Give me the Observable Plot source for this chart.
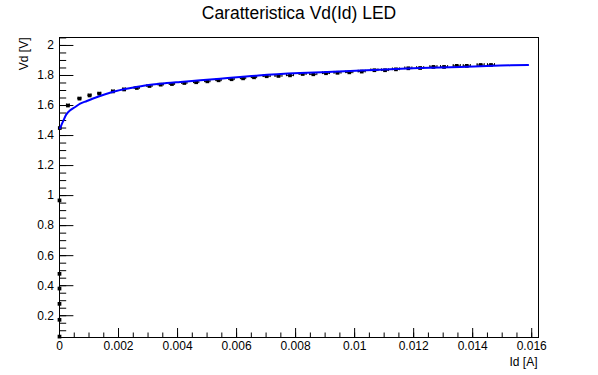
<!DOCTYPE html>
<html>
<head>
<meta charset="utf-8">
<script src="https://cdn.jsdelivr.net/npm/d3@7"></script>
<script src="https://cdn.jsdelivr.net/npm/@observablehq/plot@0.6"></script>
<style>
  html, body { margin: 0; padding: 0; background: #fff; }
</style>
</head>
<body>
<div id="chart"></div>
<script>
// ---- data ----
const titleText = "Caratteristica Vd(Id) LED";
const xTitle = "Id [A]";
const yTitle = "Vd [V]";

const idValues = [
  0, 0, 0, 0, 0, 0, 0.00001,
  0.000285, 0.000677, 0.00102, 0.00135, 0.00181, 0.00219,
  0.00262, 0.00305, 0.00343, 0.00381, 0.00423, 0.00463, 0.00501, 0.00539, 0.00583, 0.00622, 0.00659,
  0.00702, 0.00742, 0.00781, 0.00824, 0.0086, 0.00903, 0.00942, 0.00982, 0.01024, 0.01067,
  0.01103, 0.0114, 0.01182, 0.01222, 0.01267, 0.01303, 0.01346, 0.0138, 0.01427, 0.01462
];
const vdValues = [
  0.061, 0.173, 0.279, 0.381, 0.479, 0.968, 1.45,
  1.600, 1.646, 1.667, 1.679, 1.694, 1.707,
  1.717, 1.730, 1.739, 1.743, 1.750, 1.755, 1.761, 1.768, 1.775, 1.781, 1.788,
  1.795, 1.797, 1.801, 1.810, 1.808, 1.815, 1.818, 1.821, 1.826, 1.835,
  1.835, 1.841, 1.848, 1.850, 1.857, 1.857, 1.864, 1.864, 1.870, 1.870
];
const idErrors = [
  0, 0, 0, 0, 0, 0, 0,
  0.00005, 0.00005, 0.00005, 0.00005, 0.00005, 0.00005,
  0.00009, 0.00009, 0.00009, 0.00009, 0.00009, 0.00009, 0.00009, 0.00009, 0.00009, 0.00009, 0.00009,
  0.00012, 0.00012, 0.00012, 0.00012, 0.00012, 0.00012, 0.00012, 0.00012, 0.00012, 0.00012,
  0.00012, 0.00012, 0.00012, 0.00012, 0.00012, 0.00012, 0.00012, 0.00012, 0.00012, 0.00012
];

// fit curve
const fitId = [0.00002, 0.000135, 0.000227, 0.000362, 0.000532, 0.000701, 0.000928, 0.00121, 0.00155,
  0.00189, 0.00222, 0.00256, 0.00285, 0.00341, 0.00409, 0.00477, 0.00544, 0.00612, 0.00674, 0.00815,
  0.00985, 0.01086, 0.01222, 0.01357, 0.01493, 0.01588];
const fitVd = [1.45, 1.501, 1.539, 1.568, 1.590, 1.613, 1.630, 1.652, 1.675,
  1.695, 1.710, 1.722, 1.732, 1.745, 1.757, 1.768, 1.779, 1.790, 1.800, 1.816,
  1.830, 1.839, 1.850, 1.857, 1.866, 1.870];

const xTicks = [0, 0.002, 0.004, 0.006, 0.008, 0.01, 0.012, 0.014, 0.016];
const xTickLabels = ["0", "0.002", "0.004", "0.006", "0.008", "0.01", "0.012", "0.014", "0.016"];
const yTicks = [0.2, 0.4, 0.6, 0.8, 1, 1.2, 1.4, 1.6, 1.8, 2];
const yTickLabels = ["0.2", "0.4", "0.6", "0.8", "1", "1.2", "1.4", "1.6", "1.8", "2"];

const xDomain = [0, 0.01623];
const yDomain = [0.055, 2.053];

// ---- build tables ----
const points = idValues.map((id, i) => ({id, vd: vdValues[i], err: idErrors[i]}));
const withErr = points.filter(d => d.err > 0);
const fit = fitId.map((id, i) => ({id, vd: fitVd[i]}));
const xMinor = d3.range(0, 0.01623, 0.0005);
const yMinor = d3.range(0.1, 2.0531, 0.05);
const xLab = xTicks.map((v, i) => ({v, label: xTickLabels[i]}));
const yLab = yTicks.map((v, i) => ({v, label: yTickLabels[i]}));

const W = 598, H = 375;
const mL = 59, mR = 60, mT = 37, mB = 38;
const innerW = W - mL - mR, innerH = H - mT - mB;
const font = "'Liberation Sans', Arial, Helvetica, sans-serif";

const chart = Plot.plot({
  width: W,
  height: H,
  marginLeft: mL,
  marginRight: mR,
  marginTop: mT,
  marginBottom: mB,
  style: {background: "white", fontFamily: font, color: "black"},
  x: {domain: xDomain, axis: null},
  y: {domain: yDomain, axis: null},
  marks: [
    Plot.frame({stroke: "black"}),
    // x ticks (inside)
    Plot.tickX(xMinor, {x: d => d, insetTop: innerH - 4.5, stroke: "black"}),
    Plot.tickX(xTicks, {x: d => d, insetTop: innerH - 9, stroke: "black"}),
    // y ticks (inside)
    Plot.tickY(yMinor, {y: d => d, insetRight: innerW - 7.2, stroke: "black"}),
    Plot.tickY(yTicks, {y: d => d, insetRight: innerW - 14.4, stroke: "black"}),
    // tick labels
    Plot.text(xLab, {x: "v", text: "label", frameAnchor: "bottom", lineAnchor: "bottom", dy: 12, fontSize: 12, fill: "black"}),
    Plot.text(yLab, {y: "v", text: "label", frameAnchor: "left", textAnchor: "end", lineAnchor: "middle", dx: -5.5, fontSize: 12, fill: "black"}),
    // axis titles
    Plot.text([xTitle], {text: d => d, frameAnchor: "bottom-right", textAnchor: "end", lineAnchor: "bottom", dx: -1, dy: 28, fontSize: 12, fill: "black"}),
    Plot.text([yTitle], {text: d => d, frameAnchor: "top-left", textAnchor: "end", lineAnchor: "bottom", rotate: -90, dx: -32, dy: 0, fontSize: 12, fill: "black"}),
    // title
    Plot.text([titleText], {text: d => d, frameAnchor: "top", lineAnchor: "bottom", dy: -19, fontSize: 17.5, fill: "black"}),
    // error bars
    Plot.ruleY(withErr, {y: "vd", x1: d => d.id - d.err, x2: d => d.id + d.err, stroke: "black"}),
    Plot.ruleX(withErr, {x: d => d.id - d.err, y1: d => d.vd - 0.009, y2: d => d.vd + 0.009, stroke: "black"}),
    Plot.ruleX(withErr, {x: d => d.id + d.err, y1: d => d.vd - 0.009, y2: d => d.vd + 0.009, stroke: "black"}),
    // markers
    Plot.dot(points, {x: "id", y: "vd", symbol: "square", r: 2.1, fill: "black", stroke: null}),
    // fit curve
    Plot.line(fit, {x: "id", y: "vd", stroke: "#0000ff", strokeWidth: 2, curve: "catmull-rom"})
  ]
});
document.getElementById("chart").appendChild(chart);
</script>
</body>
</html>
